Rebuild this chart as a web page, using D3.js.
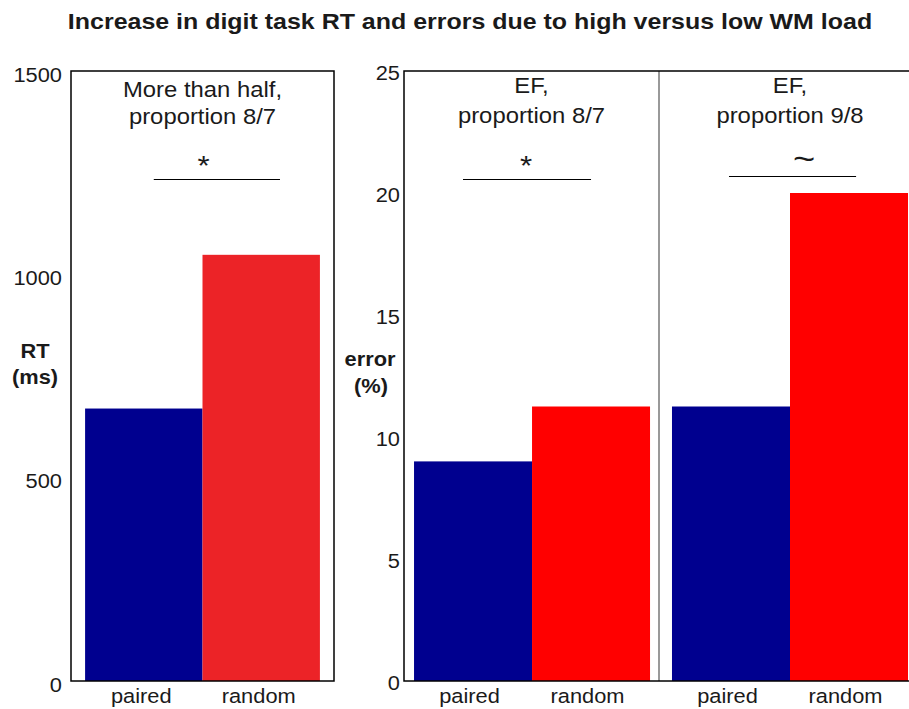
<!DOCTYPE html>
<html>
<head>
<meta charset="utf-8">
<script src="https://cdn.jsdelivr.net/npm/d3@7/dist/d3.min.js"></script>
<style>
  html, body { margin: 0; padding: 0; background: #fff; }
  svg { display: block; font-family: "Liberation Sans", Arial, Helvetica, sans-serif; }
</style>
</head>
<body>
<svg id="chart" width="909" height="709"></svg>
<script>
// ---------- data ----------
const titleText = "Increase in digit task RT and errors due to high versus low WM load";
const categories = ["paired", "random"];
const rtValues = [670, 1048];
const rtTicks = [0, 500, 1000, 1500];
const rtPanelTitle = ["More than half,", "proportion 8/7"];
const rtSig = { mark: "*", x0: 1.085, x1: 2.16 };

const errGroupTitles = [["EF,", "proportion 8/7"], ["EF,", "proportion 9/8"]];
const errPaired = [9.0, 11.25];
const errRandom = [11.25, 20.0];
const errTicks = [0, 5, 10, 15, 20, 25];
const errSig = [{ mark: "*", x0: 0.915, x1: 2.0 }, { mark: "~", x0: 0.983, x1: 2.06 }];

const colors = { paired: "#00008f", randomLeft: "#ec2327", randomRight: "#ff0000" };

// ---------- setup ----------
const svg = d3.select("#chart");
const SX = 1.12; // horizontal text stretch seen in reference
const plotTop = 71, plotBottom = 681;

function txt(g, x, y, s, size, weight, anchor) {
  return g.append("text")
    .attr("transform", `translate(${x},${y}) scale(${SX},1)`)
    .attr("text-anchor", anchor || "middle")
    .attr("font-size", size)
    .attr("font-weight", weight || "normal")
    .attr("fill", "#1a1a1a")
    .text(s);
}

// title
txt(svg, 470, 29, titleText, 22.3, "bold");

// ---------- left panel: RT ----------
const yRT = d3.scaleLinear().domain([0, 1500]).range([plotBottom, plotTop]);
const xL = d3.scaleLinear().domain([0.38, 2.62]).range([71, 334]);

const gL = svg.append("g");
gL.selectAll("rect.bar").data(rtValues).join("rect")
  .attr("x", (d, i) => xL(i + 0.5))
  .attr("width", (d, i) => xL(i + 1.5) - xL(i + 0.5))
  .attr("y", d => yRT(d))
  .attr("height", d => yRT(0) - yRT(d))
  .attr("fill", (d, i) => i === 0 ? colors.paired : colors.randomLeft);

gL.append("rect")
  .attr("x", xL.range()[0]).attr("y", plotTop)
  .attr("width", xL.range()[1] - xL.range()[0]).attr("height", plotBottom - plotTop)
  .attr("fill", "none").attr("stroke", "#000").attr("stroke-width", 1.5);

const axL = gL.append("g").attr("transform", `translate(${xL.range()[0]},0)`)
  .call(d3.axisLeft(yRT).tickValues(rtTicks).tickSize(0).tickPadding(9).tickFormat(d3.format("d")));
axL.select(".domain").remove();
axL.selectAll("text")
  .attr("font-size", 19.5).attr("font-family", "Liberation Sans, Arial, sans-serif").attr("fill", "#1a1a1a")
  .attr("dy", 0).attr("x", -9 / SX).attr("y", 10)
  .attr("transform", `scale(${SX},1)`);

const axLB = gL.append("g").attr("transform", `translate(0,${plotBottom})`)
  .call(d3.axisBottom(xL).tickValues([1, 2]).tickSize(0).tickFormat((d, i) => categories[i]));
axLB.select(".domain").remove();
axLB.selectAll("text")
  .attr("font-size", 19.5).attr("font-family", "Liberation Sans, Arial, sans-serif").attr("fill", "#1a1a1a")
  .attr("dy", 0).attr("y", 22).attr("x", -3 / SX)
  .attr("transform", `scale(${SX},1)`);

txt(gL, 35, 358, "RT", 19.5, "bold");
txt(gL, 35, 384, "(ms)", 19.5, "bold");

const cL = (xL.range()[0] + xL.range()[1]) / 2;
txt(gL, cL, 97, rtPanelTitle[0], 21.3);
txt(gL, cL, 124, rtPanelTitle[1], 21.3);
txt(gL, cL + 1, 175, rtSig.mark, 28);
gL.append("line")
  .attr("x1", xL(rtSig.x0)).attr("x2", xL(rtSig.x1))
  .attr("y1", 179.5).attr("y2", 179.5)
  .attr("stroke", "#000").attr("stroke-width", 1);

// ---------- right panel: errors ----------
const yE = d3.scaleLinear().domain([0, 25]).range([plotBottom, plotTop]);
const subRanges = [[404, 659], [659, 921]];
const subDomains = [[0.415, 2.576], [0.39, 2.61]];
const xSubs = subRanges.map((r, k) => d3.scaleLinear().domain(subDomains[k]).range(r));

const gR = svg.append("g");
errGroupTitles.forEach((t, k) => {
  const xs = xSubs[k];
  const vals = [errPaired[k], errRandom[k]];
  gR.selectAll(`rect.b${k}`).data(vals).join("rect").attr("class", `b${k}`)
    .attr("x", (d, i) => xs(i + 0.5))
    .attr("width", (d, i) => xs(i + 1.5) - xs(i + 0.5))
    .attr("y", d => yE(d))
    .attr("height", d => yE(0) - yE(d))
    .attr("fill", (d, i) => i === 0 ? colors.paired : colors.randomRight);

  const axB = gR.append("g").attr("transform", `translate(0,${plotBottom})`)
    .call(d3.axisBottom(xs).tickValues([1, 2]).tickSize(0).tickFormat((d, i) => categories[i]));
  axB.select(".domain").remove();
  axB.selectAll("text")
    .attr("font-size", 19.5).attr("font-family", "Liberation Sans, Arial, sans-serif").attr("fill", "#1a1a1a")
    .attr("dy", 0).attr("y", 22).attr("x", -4 / SX)
    .attr("transform", `scale(${SX},1)`);

  const c = (xs.range()[0] + xs.range()[1]) / 2;
  txt(gR, c, 93, t[0], 21.3);
  txt(gR, c, 123, t[1], 21.3);
  const sg = errSig[k];
  if (sg.mark === "*") {
    txt(gR, xs(1.45), 175, sg.mark, 28);
  } else {
    txt(gR, xs(1.62), 170, sg.mark, 34);
  }
  gR.append("line")
    .attr("x1", xs(sg.x0)).attr("x2", xs(sg.x1))
    .attr("y1", k === 0 ? 179.5 : 176.5).attr("y2", k === 0 ? 179.5 : 176.5)
    .attr("stroke", "#000").attr("stroke-width", 1);
});

// divider between groups
gR.append("line")
  .attr("x1", subRanges[0][1]).attr("x2", subRanges[0][1])
  .attr("y1", plotTop).attr("y2", plotBottom)
  .attr("stroke", "#555").attr("stroke-width", 1.2);

// box
gR.append("rect")
  .attr("x", subRanges[0][0]).attr("y", plotTop)
  .attr("width", subRanges[1][1] - subRanges[0][0]).attr("height", plotBottom - plotTop)
  .attr("fill", "none").attr("stroke", "#000").attr("stroke-width", 1.5);

const axR = gR.append("g").attr("transform", `translate(${subRanges[0][0]},0)`)
  .call(d3.axisLeft(yE).tickValues(errTicks).tickSize(0).tickPadding(4));
axR.select(".domain").remove();
axR.selectAll("text")
  .attr("font-size", 19.5).attr("font-family", "Liberation Sans, Arial, sans-serif").attr("fill", "#1a1a1a")
  .attr("dy", 0).attr("x", -4 / SX).attr("y", 8)
  .attr("transform", `scale(${SX},1)`);

txt(gR, 370, 366, "error", 19.5, "bold");
txt(gR, 371, 393, "(%)", 19.5, "bold");
</script>
</body>
</html>
